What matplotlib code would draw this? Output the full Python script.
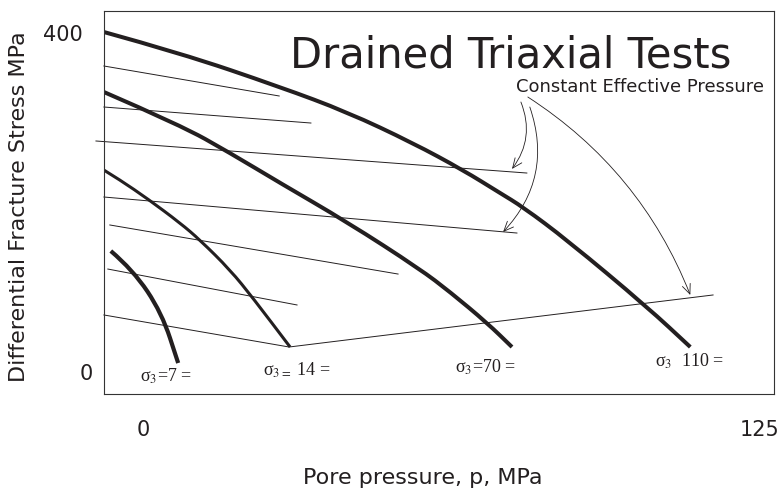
import numpy as np
import matplotlib.pyplot as plt
from matplotlib.path import Path
from matplotlib.patches import PathPatch
from matplotlib.transforms import ScaledTranslation

plt.rcParams['font.family'] = ['DejaVu Sans']
plt.rcParams['mathtext.fontset'] = 'stix'

ink = '#231f20'

# fracture stress curves for each confining pressure (pore pressure, stress)
p_110 = [-7.9, 7.5, 27.7, 41.2, 54.5, 64.6, 72.1, 76.7, 85.6, 101.8, 110.5]
q_110 = [401.2, 376.4, 336.3, 306.8, 270.2, 238.3, 211.2, 194.7, 155.8, 76.7, 29.5]
p_70 = [-7.9, 7.5, 17.6, 27.7, 41.2, 55.9, 62.0, 69.5, 74.5]
q_70 = [330.4, 291.5, 258.4, 223.0, 177.0, 121.5, 94.4, 57.8, 29.5]
p_14 = [-7.9, -4.6, 1.0, 7.5, 11.5, 17.6, 22.2, 29.7]
q_14 = [238.3, 226.5, 204.1, 175.8, 155.8, 120.4, 87.3, 29.5]
p_7 = [-6.5, -2.0, 3.8, 7.1]
q_7 = [142.8, 120.4, 69.6, 10.6]

# constant effective pressure lines
ce_p = [[-7.9, 27.5], [-7.9, 33.9], [-9.5, 77.5], [-7.9, 75.5],
        [-6.7, 51.5], [-7.1, 31.1], [-7.9, 29.5, 115.1]]
ce_q = [[361.1, 325.7], [312.7, 293.8], [272.6, 234.8], [206.5, 164.0],
        [173.5, 115.6], [121.5, 79.1], [67.3, 29.5, 90.9]]

# labels under the curve ends
sig_labels = ['σ$_3$=7 =', 'σ$_{3=}$ 14 =', 'σ$_3$=70 =', 'σ$_3$  110 =']
sig_p = [-0.6, 24.2, 63.0, 103.4]
sig_q = [-11.8, -4.7, -1.2, 5.9]

# arrows from the "Constant Effective Pressure" note
arr_from = [(76.3, 318.6), (78.1, 312.7), (77.7, 324.5)]
arr_to = [(74.5, 239.6), (72.7, 165.2), (110.5, 90.9)]
arr_rad = [-0.28, -0.3, -0.16]


def smooth_curve(xs, ys):
    # quadratic bezier through the midpoints, so the read points give a smooth stroke
    pts = list(zip(xs, ys))
    verts = [pts[0]]
    codes = [Path.MOVETO]
    for i in range(1, len(pts) - 1):
        mid = ((pts[i][0] + pts[i + 1][0]) / 2, (pts[i][1] + pts[i + 1][1]) / 2)
        verts += [pts[i], mid]
        codes += [Path.CURVE3, Path.CURVE3]
    verts.append(pts[-1])
    codes.append(Path.LINETO)
    return Path(verts, codes)


fig = plt.figure(figsize=(7.8, 4.93), dpi=100)
ax = fig.add_axes([0.1333, 0.2008, 0.859, 0.7769])

for xs, ys, w in [(p_110, q_110, 2.9), (p_70, q_70, 2.9), (p_14, q_14, 2.2), (p_7, q_7, 3.0)]:
    ax.add_patch(PathPatch(smooth_curve(xs, ys), facecolor='none', edgecolor=ink,
                           lw=w, capstyle='butt'))

for xs, ys in zip(ce_p, ce_q):
    ax.plot(xs, ys, color=ink, lw=0.7, clip_on=False)

for txt, x, y in zip(sig_labels, sig_p, sig_q):
    ax.text(x, y, txt, fontsize=13, family='Liberation Serif', color=ink,
            ha='left', va='baseline')

ax.text(74.3, 359.9, 'Drained Triaxial Tests', fontsize=30, color=ink,
        ha='center', va='baseline')
ax.text(100.4, 330.4, 'Constant Effective Pressure', fontsize=13, color=ink,
        ha='center', va='baseline')

for a, b, r in zip(arr_from, arr_to, arr_rad):
    ax.annotate('', xy=b, xytext=a,
                arrowprops=dict(arrowstyle='->,head_length=0.7,head_width=0.3',
                                connectionstyle='arc3,rad=%s' % r,
                                color=ink, lw=0.6, shrinkA=0, shrinkB=0))

ax.set_xlim(-7.88, 127.4)
ax.set_ylim(-25.96, 426.0)
ax.set_xticks([0, 125], ['0', '125'])
ax.set_yticks([0, 400], ['0', '400'])
ax.tick_params(length=0, labelsize=15, labelcolor=ink)
ax.tick_params(axis='x', pad=19)
ax.tick_params(axis='y', pad=8)
lbl = ax.get_yticklabels()[1]
lbl.set_transform(lbl.get_transform() + ScaledTranslation(-7 / 72, 0, fig.dpi_scale_trans))
lbl = ax.get_xticklabels()[1]
lbl.set_transform(lbl.get_transform() + ScaledTranslation(-2 / 72, 0, fig.dpi_scale_trans))

for s in ax.spines.values():
    s.set_color('#333333')
    s.set_linewidth(0.8)

fig.text(19 / 780, 1 - 207 / 493, 'Differential Fracture Stress MPa', rotation=90,
         fontsize=16, color=ink, ha='center', va='center')
fig.text(423 / 780, 1 - 478 / 493, 'Pore pressure, p, MPa', fontsize=16,
         color=ink, ha='center', va='center')

fig.savefig('out.png', dpi=100)
